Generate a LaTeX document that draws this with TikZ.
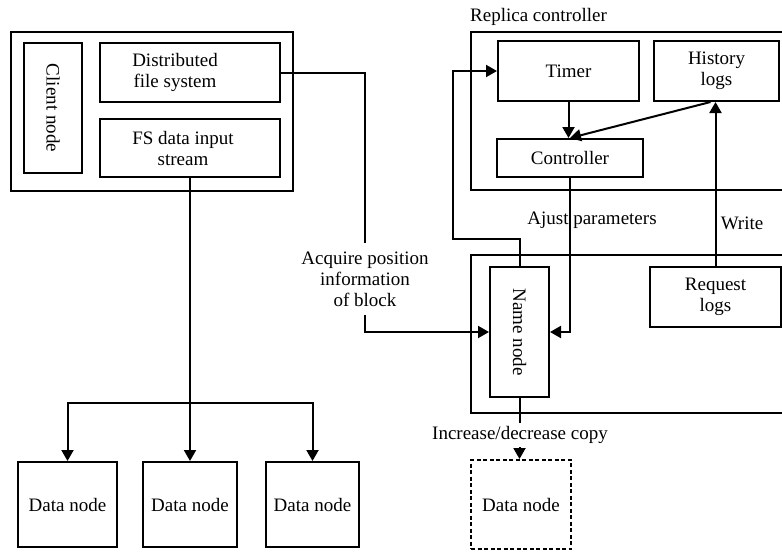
\documentclass[tikz,border=0pt]{standalone}
\usepackage{fontspec}
\setmainfont{Liberation Serif}
\usetikzlibrary{arrows.meta,calc}
\begin{document}
\begin{tikzpicture}[x=1pt,y=-1pt,
  every node/.style={font=\fontsize{19}{21}\selectfont, inner sep=0pt},
  box/.style={draw, line width=2pt, rectangle},
  dbox/.style={draw, line width=2pt, rectangle, dash pattern=on 4pt off 2.5pt},
  conn/.style={line width=2pt},
  arr/.style={line width=2pt, -{Triangle[length=11pt,width=12pt]}},
  lbl/.style={align=center}]
\clip (0,0) rectangle (782,552);
% containers
\draw[conn] (11,32) rectangle (293,191);
\draw[conn] (800,32) -- (471,32) -- (471,190) -- (800,190);
\draw[conn] (800,255) -- (471,255) -- (471,413) -- (800,413);
\node[anchor=west] (rctitle) at (470,17) {Replica controller};
% client side
\node[box, minimum width=58, minimum height=130] (client) at (53,108) {};
\node[rotate=-90] at (client) {Client node};
\node[box, minimum width=180, minimum height=59] (dfs) at (190,72.5) {};
\node[lbl] at (175,72) {Distributed\\file system};
\node[box, minimum width=180, minimum height=58] (fs) at (190,148) {};
\node[lbl] at (183,148) {FS data input\\stream};
% data nodes
\node[box, minimum width=99, minimum height=85] (d1) at (67.5,504.5) {Data node};
\node[box, minimum width=94, minimum height=85] (d2) at (190,504.5) {Data node};
\node[box, minimum width=93, minimum height=85] (d3) at (312.5,504.5) {Data node};
\node[dbox, minimum width=100, minimum height=89] (d4) at (521,504.5) {Data node};
% replica controller
\node[box, minimum width=141, minimum height=60] (timer) at (568.5,71) {Timer};
\node[box, minimum width=125, minimum height=60, lbl] (hist) at (716.5,71) {History\\logs};
\node[box, minimum width=146, minimum height=38] (ctrl) at (570,158) {Controller};
% name node area
\node[box, minimum width=59, minimum height=130] (nn) at (519.5,332) {};
\node[rotate=-90] at (nn) {Name node};
\node[box, minimum width=131, minimum height=60, lbl] (req) at (715.5,297) {Request\\logs};
% connectors
\node[lbl, fill=white, inner ysep=8pt] (acq) at (365,279) {Acquire position\\information\\of block};
\draw[conn] (dfs.east) -| (acq.north);
\draw[arr] (acq.south) |- (nn.west);
\coordinate (c1) at (453,239);
\draw[arr] (nn.north) |- (c1) |- (timer.west);
\draw[arr] (timer.south) -- (timer.south |- ctrl.north);
\draw[arr] ([xshift=-6pt]hist.south) -- (ctrl.north);
\draw[arr] (ctrl.south) |- (nn.east);
\node (ajust) at (592,220) {Ajust parameters};
\draw[arr] (req.north) -- (req.north |- hist.south);
\node (write) at (742,223) {Write};
\draw[arr] (nn.south) -- (nn.south |- d4.north);
\node[fill=white, inner ysep=3pt] (incr) at (520,435) {Increase/decrease copy};
\coordinate (br) at (190,403);
\draw[conn] (fs.south) -- (br);
\draw[arr] (br) -| (d1.north);
\draw[arr] (br) -- (d2.north);
\draw[arr] (br) -| (d3.north);
\end{tikzpicture}
\end{document}
